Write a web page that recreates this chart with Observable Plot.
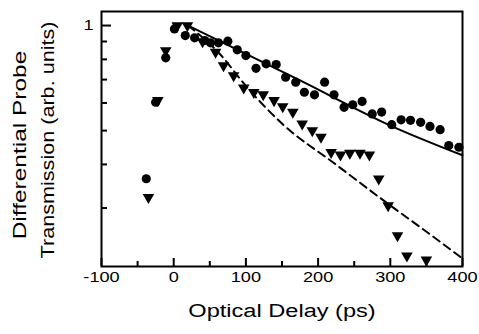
<!DOCTYPE html>
<html><head><meta charset="utf-8">
<script src="https://cdn.jsdelivr.net/npm/d3@7"></script>
<script src="https://cdn.jsdelivr.net/npm/@observablehq/plot@0.6"></script>
<style>
body{margin:0;background:#fff}
svg{font-family:"Liberation Sans",Arial,Helvetica,sans-serif;display:block}
</style>
</head><body><div id="chart"></div>
<script>
// Circles (first data series)
const circleDelay = [-38, -25, -11, 1, 16, 29, 43, 51, 62, 75, 88, 100, 114, 128, 142, 155, 169, 181, 195, 209, 222, 236, 248, 261, 275, 288, 302, 315, 328, 342, 355, 369, 381, 395];
const circleSignal = [0.364, 0.603, 0.808, 0.978, 0.936, 0.922, 0.906, 0.892, 0.892, 0.902, 0.852, 0.820, 0.754, 0.777, 0.773, 0.711, 0.688, 0.644, 0.633, 0.688, 0.633, 0.583, 0.593, 0.606, 0.558, 0.565, 0.520, 0.537, 0.535, 0.528, 0.514, 0.503, 0.453, 0.448];
// Down triangles (second data series)
const triangleDelay = [-35, -22, -11, 5, 19, 40, 58, 69, 83, 97, 111, 124, 139, 151, 165, 178, 192, 204, 218, 231, 244, 258, 271, 284, 297, 310, 323, 350];
const triangleSignal = [0.322, 0.610, 0.848, 1.0, 1.0, 0.90, 0.839, 0.768, 0.719, 0.663, 0.644, 0.634, 0.610, 0.586, 0.565, 0.523, 0.500, 0.479, 0.433, 0.426, 0.431, 0.431, 0.426, 0.364, 0.305, 0.250, 0.219, 0.213];
// Fit curves
const solidDelay = [20, 175, 300, 400];
const solidSignal = [1.0, 0.696, 0.517, 0.425];
const dashedDelay = [20, 62, 103, 153, 221, 291, 361, 400];
const dashedSignal = [1.0, 0.837, 0.660, 0.517, 0.405, 0.315, 0.247, 0.215];
// Ticks
const xMajorTicks = [-100, 0, 100, 200, 300, 400];
const xMinorTicks = [-50, 50, 150, 250, 350];
const yMajorTicks = [1];
const yMinorTicks = [0.9, 0.8, 0.7, 0.6, 0.5, 0.4, 0.3];
const xTitle = "Optical Delay (ps)";
const yTitle1 = "Differential Probe";
const yTitle2 = "Transmission (arb. units)";

const circles = circleDelay.map((t, i) => ({t, v: circleSignal[i]}));
const triangles = triangleDelay.map((t, i) => ({t, v: triangleSignal[i]}));
const solid = solidDelay.map((t, i) => ({t, v: solidSignal[i]}));
const dashed = dashedDelay.map((t, i) => ({t, v: dashedSignal[i]}));

const plot = Plot.plot({
  width: 479, height: 334,
  marginLeft: 101, marginRight: 17, marginTop: 11, marginBottom: 68,
  style: {fontFamily: "Liberation Sans, Arial, Helvetica, sans-serif", fontSize: "14.5px", color: "black", background: "white"},
  x: {type: "linear", domain: [-100, 400]},
  y: {type: "log", domain: [0.204, 1.097]},
  marks: [
    Plot.axisX(xMajorTicks, {tickSize: 0, tickPadding: 5, label: null, fontSize: 14.5, tickFormat: d => String(d)}),
    Plot.axisY(yMajorTicks, {tickSize: 0, tickPadding: 8, label: null, fontSize: 14.5, tickFormat: d => String(d)}),
    Plot.tickX(xMajorTicks, {x: d => d, insetTop: 247, stroke: "black", strokeWidth: 2}),
    Plot.tickX(xMinorTicks, {x: d => d, insetTop: 250, stroke: "black", strokeWidth: 2}),
    Plot.tickY(yMajorTicks, {y: d => d, insetRight: 351, stroke: "black", strokeWidth: 2}),
    Plot.tickY(yMinorTicks, {y: d => d, insetRight: 355, stroke: "black", strokeWidth: 2}),
    Plot.line(solid, {x: "t", y: "v", stroke: "black", strokeWidth: 2, curve: "monotone-x"}),
    Plot.line(dashed, {x: "t", y: "v", stroke: "black", strokeWidth: 2, strokeDasharray: "8,5", curve: "monotone-x"}),
    Plot.dot(circles, {x: "t", y: "v", r: 4.6, fill: "black"}),
    Plot.dot(triangles, {x: "t", y: "v", symbol: "triangle", r: 4.3, fill: "black", rotate: 180}),
    Plot.frame({stroke: "black", strokeWidth: 2}),
    Plot.text([xTitle], {text: d => d, frameAnchor: "bottom", dy: 50, fontSize: 18, fill: "black"}),
    Plot.text([yTitle1], {text: d => d, frameAnchor: "left", textAnchor: "middle", rotate: -90, dx: -81, dy: 6, fontSize: 18, fill: "black"}),
    Plot.text([yTitle2], {text: d => d, frameAnchor: "left", textAnchor: "middle", rotate: -90, dx: -53, dy: 1, fontSize: 18, fill: "black"})
  ]
});
document.getElementById("chart").appendChild(plot);

// The reference typeface is wider than Arial; widen glyphs to match.
const widen = {[xTitle]: 1.31, [yTitle1]: 1.36, [yTitle2]: 1.2};
plot.querySelectorAll("text").forEach(t => {
  const k = widen[t.textContent] ?? 1.25;
  const w = t.getComputedTextLength();
  if (w > 0) {
    t.setAttribute("textLength", (w * k).toFixed(1));
    t.setAttribute("lengthAdjust", "spacingAndGlyphs");
  }
});
</script>
</body></html>
